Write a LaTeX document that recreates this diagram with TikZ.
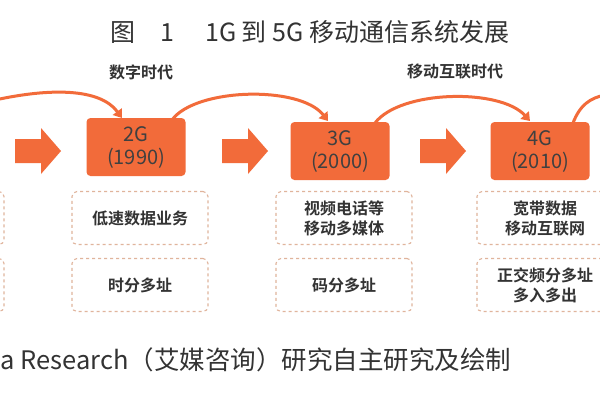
\documentclass[tikz,border=0pt]{standalone}
\usepackage{fontspec}
\setmainfont{Noto Sans CJK SC}
\newfontfamily\cjkb{Noto Sans CJK SC Bold}
\usetikzlibrary{arrows.meta}
\definecolor{og}{HTML}{F26B3A}
\definecolor{dsh}{HTML}{E0B49C}
\tikzset{
 gbox/.style={fill=og,rounded corners=4pt,minimum width=99pt,minimum height=58pt,text=black!75,font=\fontsize{20}{23}\selectfont,align=center,inner sep=0pt},
 dbox/.style={draw=dsh,dashed,line width=1.1pt,rounded corners=5pt,minimum width=136pt,minimum height=53pt,align=center,font=\cjkb\fontsize{16}{20}\selectfont,text=black!80},
 bigarrow/.style={fill=og,draw=none},
 curv/.style={draw=og,line width=3pt,-{Triangle[length=8pt,width=11pt]}},
 era/.style={font=\cjkb\fontsize{16}{18}\selectfont,text=black!80}
}
\begin{document}
\begin{tikzpicture}[x=1pt,y=-1pt]
\useasboundingbox (0,0) rectangle (600,400);
\fill[white] (0,0) rectangle (600,400);
\node[font=\fontsize{25}{28}\selectfont,text=black!80] (title) at (310,32) {图\quad 1\quad\ 1G 到 5G 移动通信系统发展};
\node[era] (e1) at (141,72) {数字时代};
\node[era] (e2) at (455,72) {移动互联时代};
\node[gbox] (g2) at (136,147) {2G\\(1990)};
\node[gbox] (g3) at (340,151) {3G\\(2000)};
\node[gbox] (g4) at (540,151) {4G\\(2010)};
\foreach \x/\n in {15/a1,222/a2,420/a3}{
 \fill[bigarrow] (\x,139) -- (\x+26,139) -- (\x+26,128) -- (\x+46,151) -- (\x+26,174) -- (\x+26,163) -- (\x,163) -- cycle;
}
\node[dbox] (d21) at (140,218) {低速数据业务};
\node[dbox] (d22) at (140,285) {时分多址};
\node[dbox] (d31) at (344,218) {视频电话等\\移动多媒体};
\node[dbox] (d32) at (344,285) {码分多址};
\node[dbox] (d41) at (545,218) {宽带数据\\移动互联网};
\node[dbox] (d42) at (545,285) {正交频分多址\\多入多出};
\node[dbox] (d11) at (-64,218) {};
\node[dbox] (d12) at (-64,285) {};
\coordinate (l0) at (-5,100);
\coordinate (r0) at (605,95);
\coordinate (t2) at (122,118);
\coordinate (t3) at (328,121);
\coordinate (t4) at (530,121);
\draw[curv] (l0) .. controls (50,88) and (100,88) .. (t2);
\draw[curv] (172,120) .. controls (195,88) and (300,85) .. (t3);
\draw[curv] (375,123) .. controls (400,90) and (500,88) .. (t4);
\draw[og,line width=3pt] (573,123) .. controls (580,105) and (590,98) .. (r0);
\node[anchor=west,font=\fontsize{25.5}{29}\selectfont,text=black!80] (src) at (-3,360) {a Research（艾媒咨询）研究自主研究及绘制};
\end{tikzpicture}
\end{document}
